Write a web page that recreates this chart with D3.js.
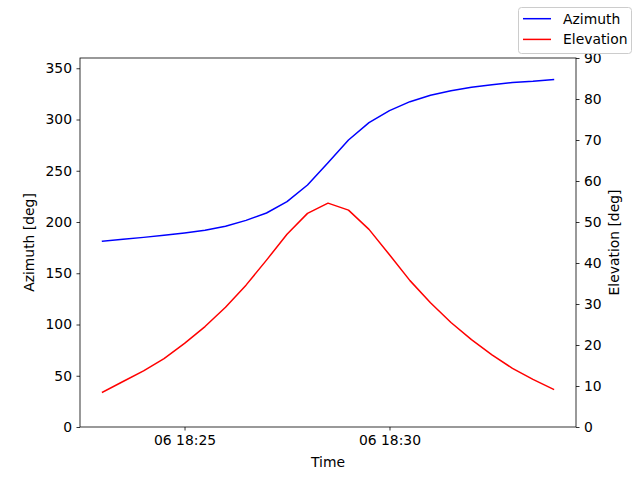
<!DOCTYPE html>
<html>
<head>
<meta charset="utf-8">
<script src="https://cdn.jsdelivr.net/npm/d3@7"></script>
<style>
  body { margin: 0; background: #fff; }
  svg { font-family: "DejaVu Sans", sans-serif; }
</style>
</head>
<body>
<svg id="chart" width="640" height="480"></svg>
<script>
// sample times, 30 s apart
let times = ["18:23:00", "18:23:30", "18:24:00", "18:24:30", "18:25:00", "18:25:30",
             "18:26:00", "18:26:30", "18:27:00", "18:27:30", "18:28:00", "18:28:30",
             "18:29:00", "18:29:30", "18:30:00", "18:30:30", "18:31:00", "18:31:30",
             "18:32:00", "18:32:30", "18:33:00", "18:33:30", "18:34:00"];
let azimuth = [181.2, 183.1, 185.0, 187.0, 189.3, 191.9, 195.8, 201.6, 208.8, 219.8,
               236.1, 257.9, 280.0, 296.9, 308.6, 317.4, 323.6, 328.1, 331.4, 334.0,
               336.0, 337.2, 338.9];
let elevation = [8.5, 11.1, 13.7, 16.7, 20.4, 24.5, 29.2, 34.6, 40.7, 47.0,
                 52.1, 54.6, 52.9, 48.2, 42.0, 35.7, 30.3, 25.5, 21.3, 17.6,
                 14.3, 11.6, 9.2];
let azTicks = [0, 50, 100, 150, 200, 250, 300, 350];
let elTicks = [0, 10, 20, 30, 40, 50, 60, 70, 80, 90];
let timeTicks = ["18:25:00", "18:30:00"];
let day = "2023-06-06T";

let parse = s => new Date(day + s + "Z");
let dates = times.map(parse);

let axL = 80, axR = 576, axT = 58, axB = 427;
let fontSize = "13.9px";

let svg = d3.select("#chart");

// matplotlib style 5% margin on x
let t0 = dates[0], t1 = dates[dates.length - 1];
let pad = (t1 - t0) * 0.05;
let x = d3.scaleUtc()
        .domain([new Date(+t0 - pad), new Date(+t1 + pad)])
        .range([axL, axR]);
let yAz = d3.scaleLinear().domain([0, 360]).range([axB, axT]);
let yEl = d3.scaleLinear().domain([0, 90]).range([axB, axT]);

let fmt = d3.utcFormat("%d %H:%M");

function styleAxis(g) {
        g.select(".domain").remove();
        g.selectAll(".tick line").attr("stroke", "#000").attr("stroke-width", 0.8);
        g.selectAll(".tick text").attr("fill", "#000").style("font-size", fontSize)
                .style("font-family", "DejaVu Sans");
}

svg.append("g")
        .attr("transform", `translate(0,${axB})`)
        .call(d3.axisBottom(x).tickValues(timeTicks.map(parse)).tickFormat(fmt)
                .tickSize(3.5).tickPadding(4.5))
        .call(styleAxis);

svg.append("g")
        .attr("transform", `translate(${axL},0)`)
        .call(d3.axisLeft(yAz).tickValues(azTicks).tickSize(3.5).tickPadding(4.5))
        .call(styleAxis);

svg.append("g")
        .attr("transform", `translate(${axR},0)`)
        .call(d3.axisRight(yEl).tickValues(elTicks).tickSize(3.5).tickPadding(4.5))
        .call(styleAxis);

svg.append("clipPath").attr("id", "clip")
        .append("rect").attr("x", axL).attr("y", axT)
        .attr("width", axR - axL).attr("height", axB - axT);

let azLine = d3.line().x((d, i) => x(dates[i])).y(d => yAz(d));
let elLine = d3.line().x((d, i) => x(dates[i])).y(d => yEl(d));

svg.append("path")
        .datum(azimuth)
        .attr("clip-path", "url(#clip)")
        .attr("fill", "none")
        .attr("stroke", "#0000ff")
        .attr("stroke-width", 1.5)
        .attr("stroke-linejoin", "round")
        .attr("stroke-linecap", "square")
        .attr("d", azLine);

svg.append("path")
        .datum(elevation)
        .attr("clip-path", "url(#clip)")
        .attr("fill", "none")
        .attr("stroke", "#ff0000")
        .attr("stroke-width", 1.5)
        .attr("stroke-linejoin", "round")
        .attr("stroke-linecap", "square")
        .attr("d", elLine);

// frame
svg.append("rect")
        .attr("x", axL).attr("y", axT)
        .attr("width", axR - axL).attr("height", axB - axT)
        .attr("fill", "none")
        .attr("stroke", "#000")
        .attr("stroke-width", 0.8);

// axis labels
svg.append("text")
        .attr("x", (axL + axR) / 2).attr("y", 467)
        .attr("text-anchor", "middle")
        .style("font-size", fontSize)
        .text("Time");

svg.append("text")
        .attr("transform", `translate(34,${(axT + axB) / 2}) rotate(-90)`)
        .attr("text-anchor", "middle")
        .style("font-size", fontSize)
        .text("Azimuth [deg]");

svg.append("text")
        .attr("transform", `translate(618.5,${(axT + axB) / 2}) rotate(-90)`)
        .attr("text-anchor", "middle")
        .style("font-size", fontSize)
        .text("Elevation [deg]");

// legend (figure level, upper right)
let legendItems = [
        { name: "Azimuth", color: "#0000ff" },
        { name: "Elevation", color: "#ff0000" }
];
let lg = svg.append("g");
lg.append("rect")
        .attr("x", 518.5).attr("y", 7.5)
        .attr("width", 113).attr("height", 46)
        .attr("rx", 3)
        .attr("fill", "#fff")
        .attr("fill-opacity", 0.8)
        .attr("stroke", "#cccccc");
let item = lg.selectAll("g.item")
        .data(legendItems)
        .join("g")
        .attr("transform", (d, i) => `translate(0,${18.7 + i * 20.7})`);
item.append("line")
        .attr("x1", 523).attr("x2", 551)
        .attr("stroke", d => d.color)
        .attr("stroke-width", 1.5);
item.append("text")
        .attr("x", 563).attr("dy", "0.35em")
        .style("font-size", fontSize)
        .text(d => d.name);
</script>
</body>
</html>
